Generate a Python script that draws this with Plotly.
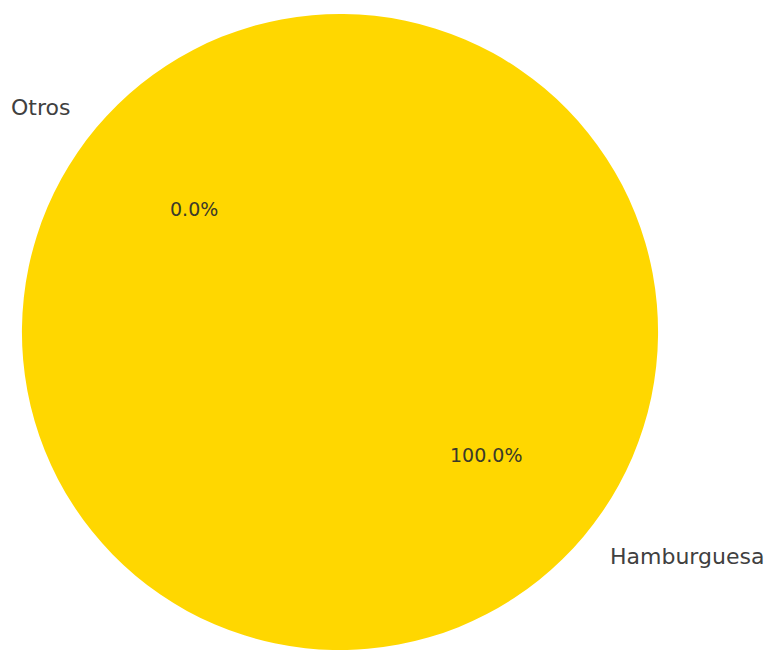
import math
import plotly.graph_objects as go

labels = ["Hamburguesa", "Otros"]
values = [100.0, 0.0]
colors = ["#FFD700", "#1f77b4"]
start_angle = 140.0  # degrees, counterclockwise from +x (matplotlib convention)

W, H = 773, 650
# pie geometry in pixels
dom_x = [21 / W, 659 / W]
dom_y = [0.0, 636 / H]
r_px = min((dom_x[1] - dom_x[0]) * W, (dom_y[1] - dom_y[0]) * H) / 2
cx_px = (dom_x[0] + dom_x[1]) / 2 * W
cy_px = (dom_y[0] + dom_y[1]) / 2 * H  # from bottom

fig = go.Figure(go.Pie(
    labels=labels,
    values=values,
    sort=False,
    direction="counterclockwise",
    rotation=90 - start_angle,
    marker=dict(colors=colors, line=dict(width=0)),
    textinfo="none",
    hoverinfo="label+percent",
    showlegend=False,
    domain=dict(x=dom_x, y=dom_y),
))

total = sum(values)
annotations = []
cum = 0.0
for lab, v in zip(labels, values):
    frac = v / total
    mid = math.radians(start_angle + 360 * (cum + frac / 2))
    cum += frac
    # label at 1.1 r
    lx = cx_px + 1.1 * r_px * math.cos(mid)
    ly = cy_px + 1.1 * r_px * math.sin(mid)
    annotations.append(dict(
        x=lx / W, y=ly / H, xref="paper", yref="paper",
        text=lab, showarrow=False,
        xanchor="left" if math.cos(mid) > 0 else "right",
        yanchor="middle",
        font=dict(family="DejaVu Sans", size=22, color="#404040"),
    ))
    # percentage at 0.6 r
    px = cx_px + 0.6 * r_px * math.cos(mid)
    py = cy_px + 0.6 * r_px * math.sin(mid)
    annotations.append(dict(
        x=px / W, y=py / H, xref="paper", yref="paper",
        text=f"{frac * 100:.1f}%", showarrow=False,
        xanchor="center", yanchor="middle",
        font=dict(family="DejaVu Sans", size=19, color="#3a3a2a"),
    ))

fig.update_layout(
    width=W, height=H,
    margin=dict(l=0, r=0, t=0, b=0),
    paper_bgcolor="white",
    plot_bgcolor="white",
    annotations=annotations,
)

fig.write_html("out.html")
